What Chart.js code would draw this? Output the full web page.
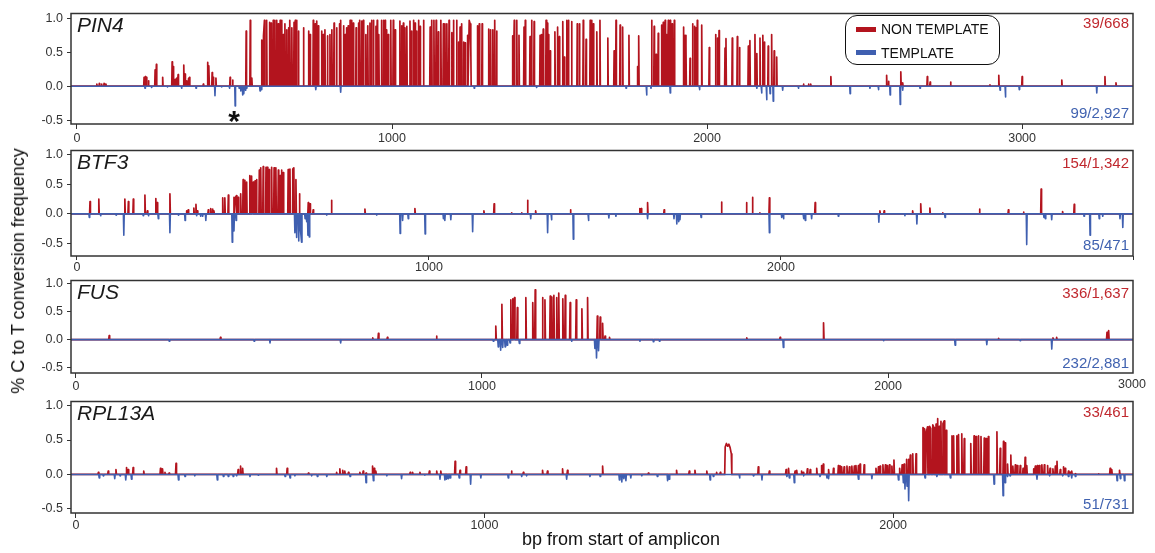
<!DOCTYPE html>
<html>
<head>
<meta charset="utf-8">
<script src="https://cdn.jsdelivr.net/npm/chart.js@4.4.1/dist/chart.umd.min.js"></script>
<style>
  body { margin: 0; background: #fff; }
  #fig { position: relative; width: 1155px; height: 553px; overflow: hidden; font-family: "Liberation Sans", Arial, sans-serif; }
  #fig canvas { position: absolute; left: 0; }
  .t { position: absolute; white-space: nowrap; }
</style>
</head>
<body>
<div id="fig"></div>
<script>
// ---- data: [bp, frequency] ----
const genes = ['PIN4', 'BTF3', 'FUS', 'RPL13A'];
const nonTemplateCounts = ['39/668', '154/1,342', '336/1,637', '33/461'];
const templateCounts = ['99/2,927', '85/471', '232/2,881', '51/731'];
const yTicks = [-0.5, 0, 0.5, 1.0];
const pin4Ticks = [0, 1000, 2000, 3000];
const btf3Ticks = [0, 1000, 2000, 3000];
const fusTicks = [0, 1000, 2000];
const rpl13aTicks = [0, 1000, 2000];

const pin4NonTemplate = [
  [63,0.03],[71,0.04],[78,0.03],[86,0.04],[92,0.03],
  [213,0.13],[217,0.14],[221,0.13],[227,0.08],[248,0.24],[252,0.32],[272,0.13],[302,0.36],[306,0.29],
  [312,0.10],[317,0.12],[321,0.17],[339,0.31],[343,0.18],[348,0.08],[354,0.11],[357,0.13],[401,0.03],
  [415,0.35],[419,0.30],[429,0.20],[433,0.13],[441,0.12],[486,0.13],[494,0.09],
  [537,0.81],[550,0.97],[555,0.12],
  [586,0.68],[592,0.74],[595,0.97],[602,0.97],[611,0.94],[616,0.93],[623,0.97],[628,0.97],[634,0.97],
  [639,0.92],[645,0.97],[650,0.97],[655,0.76],[660,0.92],[666,0.83],[672,0.86],[676,0.97],[682,0.86],
  [689,0.94],[693,0.97],[697,0.97],[703,0.81],[719,0.86],[735,0.81],[740,0.76],[750,0.97],[756,0.92],
  [761,0.96],[766,0.89],[777,0.81],[782,0.76],[787,0.83],[795,0.74],[803,0.76],[809,0.83],[816,0.93],
  [824,0.86],[833,0.92],[837,0.97],[846,0.89],[851,0.76],[856,0.86],[861,0.89],[867,0.97],[872,0.97],
  [877,0.93],[886,0.86],[894,0.93],[898,0.97],[904,0.96],[909,0.97],[917,0.76],[923,0.89],[930,0.93],
  [935,0.97],[941,0.97],[949,0.88],[953,0.97],[958,0.76],[967,0.97],[973,0.97],[978,0.97],[983,0.83],
  [988,0.76],[996,0.97],[1004,0.97],[1010,0.83],[1025,0.96],[1031,0.89],[1036,0.93],[1041,0.86],
  [1047,0.88],[1057,0.96],[1062,0.81],[1068,0.97],[1073,0.93],[1078,0.81],[1084,0.97],
  [1089,0.88],[1100,0.97],[1121,0.87],[1126,0.97],[1133,0.97],[1140,0.97],[1147,0.80],[1155,0.97],
  [1163,0.92],[1168,0.92],[1174,0.92],[1181,0.97],[1190,0.79],[1195,0.97],[1205,0.97],[1211,0.65],
  [1216,0.87],[1221,0.92],[1227,0.65],[1232,0.64],[1240,0.75],[1245,0.97],[1248,0.92],[1250,0.60],
  [1271,0.89],[1277,0.92],[1286,0.92],[1307,0.84],[1313,0.83],[1320,0.83],[1326,0.97],[1332,0.81],
  [1383,0.74],[1388,0.97],[1396,0.97],[1403,0.75],[1419,0.87],[1423,0.97],[1438,0.73],[1443,0.97],
  [1451,0.95],[1470,0.75],[1475,0.76],[1480,0.84],[1489,0.97],[1493,0.93],[1497,0.76],[1502,0.52],
  [1517,0.80],[1525,0.87],[1531,0.73],[1542,0.95],[1547,0.43],[1555,0.97],[1560,0.97],[1570,0.95],
  [1588,0.92],[1595,0.92],[1607,0.97],[1616,0.69],[1629,0.97],[1634,0.97],[1639,0.92],[1650,0.80],
  [1660,0.97],[1685,0.71],[1705,0.52],[1711,0.97],[1724,0.90],[1732,0.87],[1752,0.75],[1779,0.29],
  [1783,0.74],[1824,0.97],[1832,0.88],[1838,0.47],[1845,0.78],[1856,0.90],[1861,0.94],[1867,0.97],
  [1872,0.76],[1877,0.97],[1883,0.97],[1889,0.92],[1896,0.97],[1925,0.87],[1930,0.75],[1933,0.60],
  [1946,0.41],[1954,0.92],[1960,0.88],[1965,0.86],[1969,0.97],[1983,0.90],[2007,0.57],[2027,0.76],
  [2033,0.71],[2038,0.82],[2057,0.56],[2060,0.70],[2080,0.71],[2096,0.73],[2103,0.57],[2131,0.59],
  [2136,0.67],[2152,0.76],[2158,0.48],[2168,0.71],[2177,0.75],[2182,0.65],[2194,0.59],[2205,0.76],
  [2213,0.52],[2221,0.43],
  [2306,0.03],[2322,0.03],[2329,0.03],[2393,0.14],[2570,0.16],[2576,0.07],[2615,0.21],[2621,0.05],
  [2699,0.14],[2708,0.06],[2773,0.06],[2898,0.02],[2926,0.16],[3000,0.14],[3126,0.09],[3263,0.14],[3298,0.05]
];
const pin4Template = [
  [216,-0.03],[237,-0.02],[287,-0.01],[332,-0.03],[378,-0.03],[438,-0.14],[459,-0.01],[484,-0.03],
  [502,-0.29],[515,-0.03],[520,-0.07],[526,-0.13],[530,-0.11],[535,-0.06],[539,-0.03],[581,-0.07],
  [586,-0.05],[758,-0.05],[837,-0.09],[1261,-0.03],[1459,-0.02],[1743,-0.03],[1808,-0.13],[1822,-0.03],
  [1883,-0.10],[1976,-0.05],[2158,-0.03],[2173,-0.10],[2189,-0.20],[2200,-0.11],[2210,-0.22],
  [2240,-0.06],[2290,-0.03],[2454,-0.11],[2517,-0.03],[2544,-0.05],[2581,-0.13],[2613,-0.27],
  [2621,-0.06],[2676,-0.03],[2930,-0.06],[2947,-0.16],[2991,-0.05],[3237,-0.10]
];

const btf3NonTemplate = [
  [37,0.21],[62,0.25],[136,0.25],[146,0.21],[160,0.25],[193,0.32],[200,0.05],[224,0.26],[228,0.19],
  [264,0.34],[311,0.05],[316,0.07],[332,0.10],[338,0.16],[342,0.05],[373,0.07],[380,0.09],[385,0.08],
  [389,0.05],[414,0.27],[420,0.27],[430,0.32],[446,0.28],[450,0.28],[453,0.31],[458,0.28],[465,0.34],
  [472,0.58],[477,0.57],[482,0.54],[491,0.65],[496,0.64],[501,0.54],[506,0.56],[510,0.58],[518,0.74],
  [522,0.78],[529,0.80],[537,0.79],[541,0.79],[546,0.75],[553,0.79],[560,0.78],[565,0.78],[572,0.74],
  [577,0.65],[581,0.74],[586,0.70],[600,0.75],[605,0.76],[613,0.76],[616,0.78],[622,0.58],[632,0.34],
  [657,0.19],[662,0.17],[671,0.07],[723,0.23],[818,0.08],[960,0.09],
  [1156,0.05],[1185,0.17],[1235,0.02],[1263,0.02],[1280,0.23],[1303,0.05],[1402,0.07],[1599,0.09],
  [1603,0.09],[1621,0.19],[1668,0.07],[1831,0.20],[1902,0.19],[1919,0.28],[1940,0.02],[1967,0.27],
  [2097,0.19],[2281,0.05],[2293,0.05],[2374,0.05],[2397,0.17],[2423,0.10],[2459,0.02],[2564,0.08],
  [2646,0.07],[2689,0.03],[2739,0.42],[2800,0.04],[2833,0.16]
];
const btf3Template = [
  [35,-0.06],[67,-0.03],[111,-0.02],[133,-0.36],[188,-0.03],[203,-0.03],[231,-0.08],[264,-0.32],
  [288,-0.02],[307,-0.11],[340,-0.03],[351,-0.04],[357,-0.04],[366,-0.11],[441,-0.48],[446,-0.29],
  [452,-0.11],[619,-0.32],[624,-0.40],[630,-0.46],[635,-0.28],[638,-0.48],[648,-0.08],[652,-0.13],
  [656,-0.36],[660,-0.39],[709,-0.02],[851,-0.02],[918,-0.33],[925,-0.11],[941,-0.08],[989,-0.34],
  [1041,-0.08],[1045,-0.11],[1062,-0.10],[1124,-0.30],[1289,-0.08],[1337,-0.32],[1348,-0.10],
  [1410,-0.43],[1453,-0.11],[1511,-0.07],[1531,-0.04],[1621,-0.08],[1696,-0.08],[1704,-0.17],
  [1709,-0.13],[1713,-0.10],[1773,-0.06],[1967,-0.32],
  [2002,-0.06],[2007,-0.08],[2064,-0.08],[2069,-0.11],[2087,-0.08],[2163,-0.04],[2278,-0.14],
  [2352,-0.03],[2386,-0.17],[2466,-0.06],[2698,-0.52],[2747,-0.06],[2751,-0.08],[2769,-0.10],
  [2861,-0.04],[2878,-0.36],[2904,-0.08],[2914,-0.04],[2963,-0.08],[2971,-0.23]
];

const fusNonTemplate = [
  [82,0.07],[356,0.04],[731,0.03],[745,0.11],[767,0.04],[888,0.06],[1034,0.24],[1049,0.63],
  [1071,0.71],[1076,0.73],[1080,0.75],[1087,0.57],[1108,0.75],[1125,0.66],[1131,0.89],[1149,0.75],
  [1155,0.71],[1168,0.78],[1172,0.76],[1177,0.79],[1184,0.75],[1189,0.83],[1199,0.73],[1205,0.79],
  [1217,0.66],[1232,0.71],[1246,0.55],[1260,0.75],[1284,0.42],[1291,0.40],[1297,0.29],[1303,0.06],
  [1314,0.04],[1652,0.03],[1734,0.04],[1841,0.30],[2272,0.02],[2406,0.03],[2415,0.04],[2539,0.13],[2543,0.16]
];
const fusTemplate = [
  [230,-0.03],[439,-0.03],[478,-0.06],[652,-0.06],[1028,-0.03],[1040,-0.13],[1046,-0.19],[1051,-0.14],
  [1057,-0.13],[1062,-0.10],[1069,-0.06],[1092,-0.07],[1221,-0.03],[1278,-0.16],[1282,-0.33],
  [1287,-0.20],[1389,-0.03],[1422,-0.04],[1437,-0.03],[1742,-0.14],[1989,-0.02],[2165,-0.10],
  [2243,-0.09],[2325,-0.02],[2403,-0.17]
];

const rpl13aNonTemplate = [
  [55,0.03],[79,0.05],[98,0.07],[124,0.10],[128,0.07],[140,0.10],[166,0.05],[207,0.09],[212,0.08],
  [218,0.03],[228,0.02],[245,0.16],[397,0.07],[403,0.12],[408,0.09],[491,0.09],[517,0.09],[569,0.02],
  [638,0.03],[646,0.08],[653,0.06],[658,0.05],[667,0.03],[695,0.03],[703,0.05],[710,0.02],[726,0.12],
  [730,0.09],[734,0.05],[818,0.03],[824,0.03],[842,0.03],[865,0.05],[883,0.05],[893,0.05],[928,0.19],
  [940,0.06],[955,0.11],[1066,0.05],[1095,0.03],[1142,0.06],[1154,0.05],[1191,0.08],[1203,0.06],
  [1289,0.12],[1401,0.02],[1470,0.06],[1501,0.05],[1515,0.06],[1544,0.05],[1568,0.03],[1577,0.03],
  [1589,0.40],[1592,0.45],[1595,0.41],[1598,0.44],[1601,0.39],[1604,0.30],[1670,0.11],[1697,0.05],
  [1738,0.07],[1744,0.09],[1760,0.05],[1764,0.06],[1776,0.05],[1780,0.03],[1790,0.08],[1797,0.07],
  [1813,0.09],[1825,0.13],[1829,0.15],[1842,0.07],[1854,0.09],[1866,0.13],[1870,0.12],[1874,0.11],
  [1880,0.11],[1887,0.12],[1893,0.11],[1899,0.12],[1905,0.12],[1909,0.13],[1915,0.13],[1919,0.15],
  [1929,0.14],[1958,0.09],[1964,0.11],[1968,0.12],[1975,0.14],[1981,0.14],[1985,0.13],[1991,0.14],
  [1997,0.12],[2002,0.21],[2016,0.09],[2022,0.14],[2027,0.15],[2033,0.22],[2038,0.22],[2042,0.28],
  [2048,0.30],[2056,0.30],[2073,0.68],[2076,0.66],[2081,0.61],[2084,0.69],[2089,0.70],[2092,0.67],
  [2097,0.72],[2100,0.68],[2105,0.73],[2109,0.81],[2113,0.70],[2117,0.77],[2122,0.74],[2125,0.78],
  [2130,0.64],[2144,0.56],[2148,0.56],[2156,0.56],[2160,0.58],[2168,0.59],[2174,0.52],[2190,0.45],
  [2198,0.56],[2203,0.55],[2209,0.56],[2215,0.55],[2223,0.53],[2228,0.52],[2233,0.55],[2254,0.62],
  [2262,0.38],[2270,0.48],[2274,0.46],[2280,0.15],[2288,0.28],[2293,0.12],[2299,0.14],[2304,0.13],
  [2311,0.13],[2318,0.09],[2323,0.25],[2327,0.13],[2344,0.08],[2348,0.12],[2353,0.13],[2358,0.13],
  [2364,0.14],[2370,0.14],[2378,0.13],[2384,0.09],[2391,0.08],[2397,0.12],[2401,0.19],[2409,0.07],
  [2417,0.11],[2421,0.09],[2429,0.05],[2433,0.03],[2437,0.05],[2446,0.01],[2503,0.01],[2531,0.09],
  [2535,0.07],[2554,0.06]
];
const rpl13aTemplate = [
  [57,-0.05],[67,-0.02],[95,-0.06],[108,-0.02],[122,-0.08],[136,-0.07],[251,-0.08],[267,-0.03],
  [291,-0.02],[346,-0.08],[361,-0.03],[373,-0.03],[385,-0.03],[393,-0.02],[426,-0.03],[446,-0.01],
  [512,-0.03],[524,-0.05],[536,-0.02],[577,-0.02],[591,-0.03],[614,-0.03],[671,-0.03],[710,-0.12],
  [728,-0.09],[761,-0.02],[797,-0.06],[854,-0.01],[891,-0.07],[903,-0.08],[907,-0.07],[911,-0.06],
  [916,-0.05],[938,-0.05],[966,-0.14],[991,-0.05],[1058,-0.05],[1091,-0.03],[1103,-0.02],[1201,-0.07],
  [1258,-0.03],[1283,-0.03],[1330,-0.08],[1336,-0.11],[1341,-0.06],[1346,-0.09],[1358,-0.05],
  [1385,-0.02],[1423,-0.03],[1448,-0.09],[1452,-0.07],[1552,-0.08],[1560,-0.03],[1624,-0.05],
  [1658,-0.02],[1679,-0.08],[1740,-0.03],[1746,-0.05],[1758,-0.12],[1781,-0.02],[1821,-0.03],
  [1838,-0.05],[1842,-0.06],[1915,-0.07],[1948,-0.06],[2013,-0.08],[2025,-0.12],[2029,-0.21],
  [2034,-0.17],[2038,-0.38],[2078,-0.05],[2107,-0.03],[2140,-0.05],[2247,-0.14],[2269,-0.31],
  [2274,-0.12],[2280,-0.03],[2286,-0.02],[2352,-0.07],[2383,-0.02],[2415,-0.02],[2429,-0.03],
  [2437,-0.05],[2446,-0.03],[2548,-0.09],[2556,-0.06],[2566,-0.09]
];

// ---- drawing ----
const RED = '#b3141e';
const BLUE = '#3f5fb0';
const FONT = '"Liberation Sans", Arial, sans-serif';
const PAD_TOP = 8;
const X_AXIS_H = 22;
const fig = document.getElementById('fig');

// each peak becomes a thin spike up from (or down to) the zero line
function spikes(points, lo, hi) {
  const s = points.slice().sort((a, b) => a[0] - b[0]);
  const out = [{ x: lo, y: 0 }];
  s.forEach(([x, y], i) => {
    const prev = i > 0 ? s[i - 1][0] : -Infinity;
    const next = i < s.length - 1 ? s[i + 1][0] : Infinity;
    if (x - prev > 3) out.push({ x: x - 1.2, y: 0 });
    out.push({ x, y });
    if (next - x > 3) out.push({ x: x + 1.2, y: 0 });
  });
  out.push({ x: hi, y: 0 });
  return out;
}

const frame = {
  id: 'frame',
  afterDraw(chart) {
    const a = chart.chartArea, g = chart.ctx;
    g.save();
    g.strokeStyle = '#333';
    g.lineWidth = 1.5;
    g.strokeRect(a.left, a.top, a.right - a.left, a.bottom - a.top);
    g.restore();
  }
};

const panels = [
  { top: 10, bottom: 124, xMin: -19, xMax: 3352, yMin: -0.557, yMax: 1.071, ticks: pin4Ticks, red: pin4NonTemplate, blue: pin4Template, tickLen: 5, tickPad: 2, hide: [] },
  { top: 147, bottom: 256, xMin: -17, xMax: 3000, yMin: -0.713, yMax: 1.074, ticks: btf3Ticks, red: btf3NonTemplate, blue: btf3Template, tickLen: 4, tickPad: 0, hide: [3000] },
  { top: 277, bottom: 373, xMin: -12, xMax: 2603, yMin: -0.598, yMax: 1.057, ticks: fusTicks, red: fusNonTemplate, blue: fusTemplate, tickLen: 5, tickPad: 1, hide: [] },
  { top: 398, bottom: 513, xMin: -12, xMax: 2587, yMin: -0.56, yMax: 1.06, ticks: rpl13aTicks, red: rpl13aNonTemplate, blue: rpl13aTemplate, tickLen: 5, tickPad: 0, hide: [] }
];

panels.forEach(p => {
  const cv = document.createElement('canvas');
  const h = PAD_TOP + (p.bottom - p.top) + X_AXIS_H;
  cv.width = 1155;
  cv.height = h;
  cv.style.top = (p.top - PAD_TOP) + 'px';
  cv.style.width = '1155px';
  cv.style.height = h + 'px';
  fig.appendChild(cv);

  new Chart(cv, {
    type: 'line',
    data: {
      datasets: [
        { label: 'TEMPLATE', data: spikes(p.blue, p.xMin, p.xMax), borderColor: BLUE, borderWidth: 1.6, order: 0 },
        { label: 'NON TEMPLATE', data: spikes(p.red, p.xMin, p.xMax), borderColor: RED, borderWidth: 1.7, order: 1 }
      ]
    },
    options: {
      responsive: false,
      animation: false,
      devicePixelRatio: 1,
      layout: { autoPadding: false, padding: { left: 21, right: 22, top: PAD_TOP, bottom: 0 } },
      elements: {
        point: { radius: 0 },
        line: { tension: 0, fill: false, borderJoinStyle: 'round' }
      },
      plugins: { legend: { display: false }, tooltip: { enabled: false } },
      scales: {
        x: {
          type: 'linear', min: p.xMin, max: p.xMax,
          afterBuildTicks: s => { s.ticks = p.ticks.map(v => ({ value: v })); },
          afterFit: s => { s.height = X_AXIS_H; },
          grid: { drawOnChartArea: false, tickLength: p.tickLen, color: '#333', lineWidth: 1 },
          border: { display: false },
          ticks: {
            padding: p.tickPad, color: '#333', font: { family: FONT, size: 12.5 },
            maxRotation: 0, autoSkip: false,
            callback: v => p.hide.includes(v) ? '' : String(v)
          }
        },
        y: {
          min: p.yMin, max: p.yMax,
          afterBuildTicks: s => { s.ticks = yTicks.map(v => ({ value: v })); },
          afterFit: s => { s.width = 50; },
          grid: { drawOnChartArea: false, tickLength: 4, color: '#333', lineWidth: 1 },
          border: { display: false },
          ticks: { padding: 4, color: '#333', font: { family: FONT, size: 12.5 }, callback: v => v.toFixed(1) }
        }
      }
    },
    plugins: [frame]
  });
});

// text placed by its baseline
function addText(txt, x, base, size, align, css) {
  const d = document.createElement('div');
  d.className = 't';
  d.textContent = txt;
  d.style.fontSize = size + 'px';
  d.style.lineHeight = size + 'px';
  d.style.top = (base - 0.8465 * size) + 'px';
  if (align === 'right') d.style.right = (1155 - x) + 'px';
  else d.style.left = x + 'px';
  if (align === 'center') d.style.transform = 'translateX(-50%)';
  Object.assign(d.style, css || {});
  fig.appendChild(d);
  return d;
}

const redBase = [27.4, 167.4, 298, 416.4];
const blueBase = [117.3, 249.3, 367.3, 508.3];
panels.forEach((p, i) => {
  addText(genes[i], 77, p.top + 22, 21, 'left', { fontStyle: 'italic', color: '#1a1a1a' });
  addText(nonTemplateCounts[i], 1129, redBase[i], 15, 'right', { color: '#c0282e' });
  addText(templateCounts[i], 1129, blueBase[i], 15, 'right', { color: '#4062b0' });
});

// legend
const box = document.createElement('div');
Object.assign(box.style, { position: 'absolute', left: '845px', top: '15px', width: '155px', height: '50px',
  boxSizing: 'border-box', border: '1.3px solid #111', borderRadius: '12px' });
fig.appendChild(box);
[[RED, 29.7, 'NON TEMPLATE', 34.3], [BLUE, 52.6, 'TEMPLATE', 58.3]].forEach(([c, cy, txt, base]) => {
  const sw = document.createElement('div');
  Object.assign(sw.style, { position: 'absolute', left: '856px', top: (cy - 2.3) + 'px', width: '20px', height: '4.6px', background: c });
  fig.appendChild(sw);
  addText(txt, 881, base, 14, 'left', { color: '#111' });
});

// asterisk under the PIN4 template peak
addText('*', 234, 131.5, 30, 'center', { fontWeight: 'bold', color: '#111' });
// stray tick label at the right of the FUS panel
addText('3000', 1132, 388.5, 12.5, 'center', { color: '#333' });

// axis titles
addText('bp from start of amplicon', 621, 545.5, 18, 'center', { color: '#111' });
const yt = document.createElement('div');
yt.className = 't';
yt.textContent = '% C to T conversion frequency';
Object.assign(yt.style, { left: '18px', top: '271px', fontSize: '18px', lineHeight: '18px', color: '#111',
  transform: 'translate(-50%, -50%) rotate(-90deg)' });
fig.appendChild(yt);
</script>
</body>
</html>
